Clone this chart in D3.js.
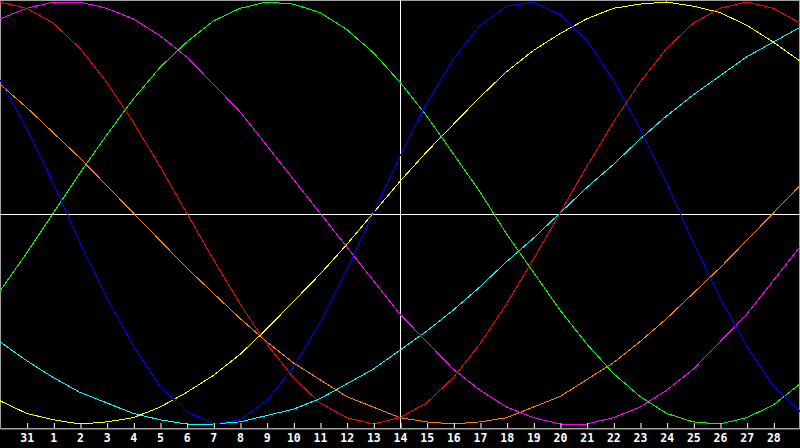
<!DOCTYPE html>
<html>
<head>
<meta charset="utf-8">
<script src="https://cdn.jsdelivr.net/npm/d3@7"></script>
<style>
  html, body { margin: 0; padding: 0; background: #000; }
  svg { display: block; }
</style>
</head>
<body>
<svg id="chart" width="800" height="448"></svg>
<script>
// day labels, one per plotted day (first and last are off the axis)
var dayLabels = ['30','31','1','2','3','4','5','6','7','8','9','10','11','12','13','14',
  '15','16','17','18','19','20','21','22','23','24','25','26','27','28','29'];

// cycle values in percent, one per day
var physical     = [63,40,14,-14,-40,-63,-82,-94,-100,-98,-89,-73,-52,-27,0,27,52,73,89,98,100,94,82,63,40,14,-14,-40,-63,-82,-94];
var emotional    = [100,97,90,78,62,43,22,0,-22,-43,-62,-78,-90,-97,-100,-97,-90,-78,-62,-43,-22,0,22,43,62,78,90,97,100,97,90];
var intellectual = [-37,-19,0,19,37,54,69,81,91,97,100,99,95,87,76,62,46,28,10,-10,-28,-46,-62,-76,-87,-95,-99,-100,-97,-91,-81];
var intuitive    = [92,97,100,100,97,92,84,74,61,48,32,16,0,-16,-32,-48,-61,-74,-84,-92,-97,-100,-100,-97,-92,-84,-74,-61,-48,-32,-16];
var aesthetic    = [-89,-95,-98,-100,-99,-97,-92,-85,-77,-67,-55,-42,-29,-15,0,15,29,42,55,67,77,85,92,97,99,100,98,95,89,81,72];
var awareness    = [61,50,38,26,13,0,-13,-26,-38,-50,-61,-71,-79,-87,-92,-97,-99,-100,-99,-97,-92,-87,-79,-71,-61,-50,-38,-26,-13,0,13];
var spiritual    = [-61,-70,-78,-85,-90,-95,-98,-100,-100,-99,-96,-93,-88,-81,-74,-65,-56,-46,-35,-23,-12,0,12,23,35,46,56,65,74,81,88];

var seriesNames  = ['awareness','spiritual','aesthetic','intuitive','intellectual','emotional','physical'];
var seriesValues = [awareness, spiritual, aesthetic, intuitive, intellectual, emotional, physical];
var seriesColors = ['#ff8000','#00ffff','#ffff00','#ff00ff','#00ff00','#ff0000','#0000ff'];

var todayIndex = 15;

var W = 800, H = 448, axisY = 428;
var svg = d3.select('#chart');

var x = d3.scaleLinear().domain([0, dayLabels.length - 1]).range([0, W]);
var y = d3.scaleLinear().domain([-100, 100]).range([424, 2]);

svg.append('rect').attr('width', W).attr('height', H).attr('fill', '#000');

// frame
svg.append('rect')
  .attr('x', 0.5).attr('y', 0.5)
  .attr('width', W - 1).attr('height', axisY)
  .attr('fill', 'none')
  .attr('stroke', '#a0a0a0')
  .attr('stroke-width', 1);

// midline and today line
svg.append('line')
  .attr('x1', 0).attr('x2', W)
  .attr('y1', Math.round(y(0)) + 1.5).attr('y2', Math.round(y(0)) + 1.5)
  .attr('stroke', '#fff').attr('stroke-width', 1);
svg.append('line')
  .attr('x1', x(todayIndex) + 0.5).attr('x2', x(todayIndex) + 0.5)
  .attr('y1', 0).attr('y2', axisY)
  .attr('stroke', '#fff').attr('stroke-width', 1);

// curves
var line = d3.line()
  .x(function(d, i){ return x(i); })
  .y(function(d){ return y(d); });

seriesValues.forEach(function(vals, i){
  svg.append('path')
    .datum(vals)
    .attr('class', 'cycle ' + seriesNames[i])
    .attr('d', line)
    .attr('fill', 'none')
    .attr('stroke', seriesColors[i])
    .attr('stroke-width', 1)
    .attr('shape-rendering', 'crispEdges');
});

// bottom axis
var tickIdx = d3.range(1, dayLabels.length - 1);
var axis = d3.axisBottom(x)
  .tickValues(tickIdx)
  .tickFormat(function(d){ return dayLabels[d]; })
  .tickSize(-5)
  .tickPadding(5);

var gAxis = svg.append('g')
  .attr('transform', 'translate(0,' + (axisY + 0.5) + ')')
  .call(axis);

gAxis.select('.domain').attr('stroke', '#a0a0a0');
gAxis.selectAll('.tick line')
  .attr('stroke', '#fff')
  .attr('transform', 'translate(0.5,-0.5)');
gAxis.selectAll('.tick text')
  .attr('fill', '#fff')
  .attr('font-family', '"DejaVu Sans Mono", monospace')
  .attr('font-weight', 'bold')
  .attr('font-size', '11.5px');
</script>
</body>
</html>
